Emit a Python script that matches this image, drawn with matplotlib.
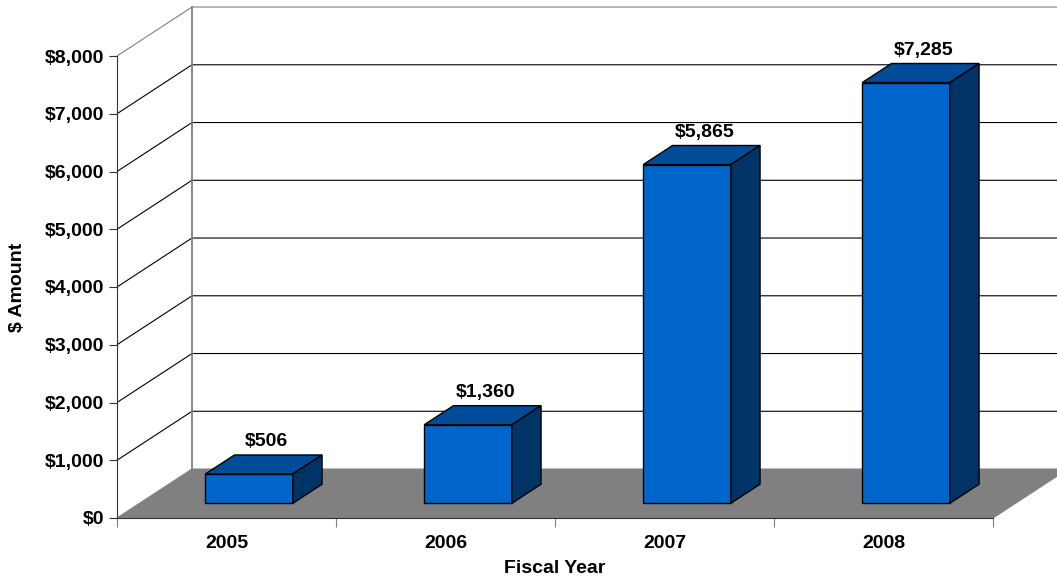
import matplotlib
matplotlib.use('Agg')
import matplotlib.pyplot as plt
from matplotlib.patches import Polygon
from matplotlib.ticker import FuncFormatter

# fiscal year spending
years = ['2005', '2006', '2007', '2008']
amounts = [506, 1360, 5865, 7285]
y_ticks = [0, 1000, 2000, 3000, 4000, 5000, 6000, 7000, 8000]

plt.rcParams['font.family'] = ['Liberation Sans', 'DejaVu Sans']
plt.rcParams['font.weight'] = 'bold'

fig = plt.figure(figsize=(10.57, 5.77), dpi=100)
ax = fig.add_axes([117/1057, 59/577, 876/1057, 462/577])
ax.set_xlim(0, len(years))
ax.set_ylim(y_ticks[0], y_ticks[-1])

# depth of the 3d box in data units
DX, DY = 0.3425, 848
f0, f1 = 0.30, 0.69   # bar front / back as fraction of depth
W = 0.40
n = len(years)

# floor
floor = Polygon([(0, 0), (DX, DY), (n + DX, DY), (n, 0)], closed=True,
                fc='#808080', ec='#808080', lw=0.8, clip_on=False, zorder=1)
ax.add_patch(floor)

# side wall diagonals + back wall gridlines
for v in y_ticks[1:]:
    c = '#808080' if v == y_ticks[-1] else 'black'
    ax.plot([0, DX, n + DX], [v, v + DY, v + DY], color=c, lw=0.8,
            clip_on=False, zorder=1, solid_capstyle='butt')
ax.plot([DX, DX], [DY, DY + y_ticks[-1]], color='#808080', lw=1.3,
        clip_on=False, zorder=1)

front_c, top_c, side_c = '#0066CC', '#004C99', '#003366'
ddx, ddy = (f1 - f0) * DX, (f1 - f0) * DY

for i, (yr, amt) in enumerate(zip(years, amounts)):
    x0 = i + 0.5 - W / 2 + f0 * DX
    x1 = x0 + W
    b0 = f0 * DY
    t0 = b0 + amt
    front = [(x0, b0), (x1, b0), (x1, t0), (x0, t0)]
    top = [(x0, t0), (x1, t0), (x1 + ddx, t0 + ddy), (x0 + ddx, t0 + ddy)]
    side = [(x1, b0), (x1 + ddx, b0 + ddy), (x1 + ddx, t0 + ddy), (x1, t0)]
    for pts, col in [(front, front_c), (top, top_c), (side, side_c)]:
        ax.add_patch(Polygon(pts, closed=True, fc=col, ec='black', lw=1.0,
                             joinstyle='miter', clip_on=False, zorder=3))
    ax.annotate(f'${amt:,}', (x0 + W / 2 + 0.6 * ddx, t0 + ddy),
                xytext=(0, 9.5), textcoords='offset points',
                ha='center', va='center', fontsize=14, fontweight='bold',
                annotation_clip=False, zorder=4)

# axes styling
for s in ['top', 'right']:
    ax.spines[s].set_visible(False)
ax.spines['left'].set_color('#333333')
ax.spines['bottom'].set_color('#333333')
ax.spines['left'].set_zorder(2)
ax.spines['bottom'].set_zorder(2)

ax.set_yticks(y_ticks)
ax.yaxis.set_major_formatter(FuncFormatter(lambda v, p: f'${v:,.0f}'))
ax.tick_params(axis='y', length=6, width=0.8, pad=3, labelsize=14,
               color='#333333')

ax.set_xticks(range(n + 1))
ax.set_xticklabels([])
ax.set_xticks([i + 0.5 for i in range(n)], minor=True)
ax.set_xticklabels(years, minor=True)
ax.tick_params(axis='x', which='major', length=6.5, width=0.8,
               color='#808080')
ax.tick_params(axis='x', which='minor', length=0, pad=12, labelsize=14)

ax.set_xlabel('Fiscal Year', fontsize=14, fontweight='bold', labelpad=6)
ax.set_ylabel('$ Amount', fontsize=14, fontweight='bold', labelpad=14)

fig.savefig('out.png', dpi=100)
